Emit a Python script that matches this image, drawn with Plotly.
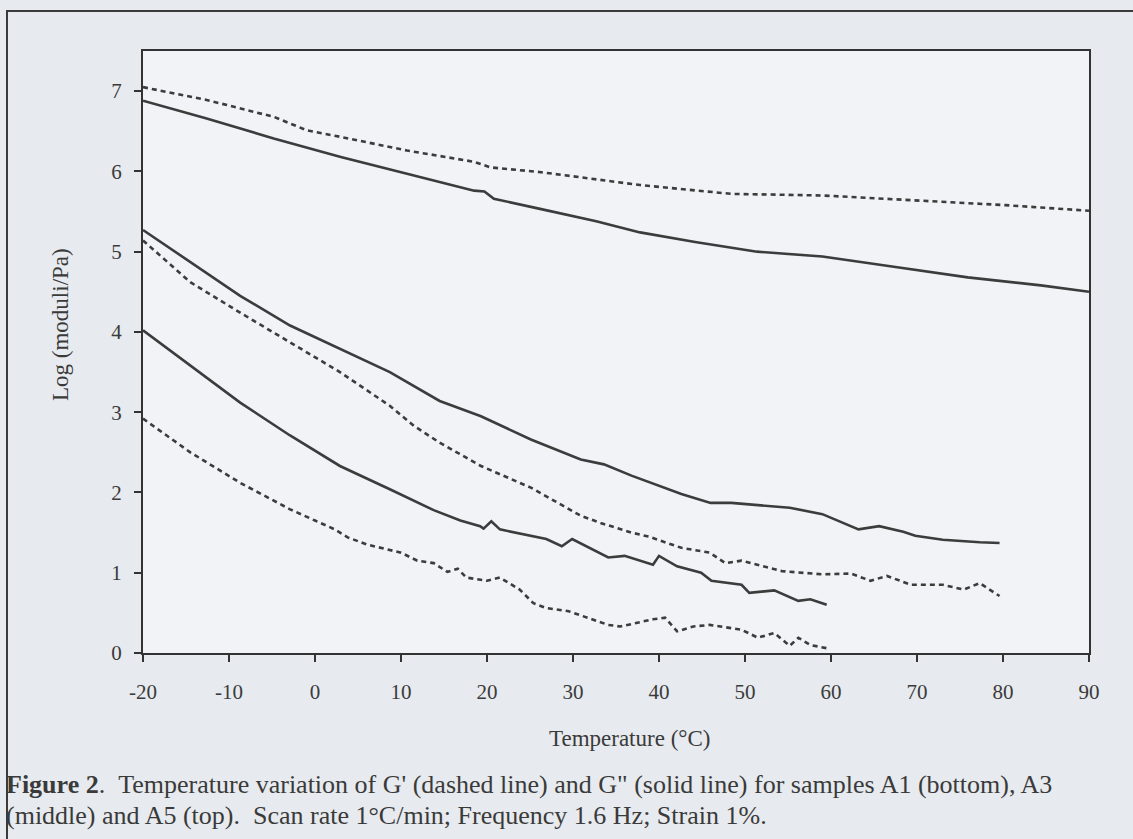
import plotly.graph_objects as go

# ---- data ----
a5_gp_t = [-20, -12.6, -4.8, -0.9, 3, 10.7, 18.5, 20.4, 26.3, 37.8, 48.4, 59, 69.6, 80.2, 90]
a5_gp_v = [7.05, 6.89, 6.68, 6.51, 6.43, 6.26, 6.12, 6.05, 5.99, 5.83, 5.72, 5.70, 5.64, 5.58, 5.51]

a5_gpp_t = [-20, -12.6, -4.8, 3, 10.7, 18.5, 19.7, 20.8, 26.3, 32.7, 37.8, 44.2, 51.4, 59, 67.5, 75.9, 84.4, 90]
a5_gpp_v = [6.88, 6.66, 6.41, 6.18, 5.97, 5.76, 5.75, 5.66, 5.53, 5.38, 5.24, 5.12, 5.00, 4.94, 4.81, 4.68, 4.58, 4.50]

a3_gpp_t = [-20, -14.5, -8.7, -2.9, 2.9, 8.7, 14.5, 19.3, 25.1, 30.9, 33.6, 36.8, 42.6, 46, 48.4,
            55.2, 59, 63.2, 65.6, 68.4, 69.8, 73, 77.3, 79.6]
a3_gpp_v = [5.27, 4.87, 4.45, 4.08, 3.79, 3.50, 3.14, 2.95, 2.66, 2.41, 2.35, 2.21, 1.98, 1.87, 1.87,
            1.81, 1.73, 1.54, 1.58, 1.51, 1.46, 1.41, 1.38, 1.37]

a3_gp_t = [-20, -14.5, -8.7, -2.9, 2.9, 8.7, 11.5, 14.5, 19.3, 25.1, 30.9, 33.2, 36.8, 38.8, 42.6,
           45.9, 47.7, 49.6, 54.3, 59, 62.3, 64.6, 66.5, 69.3, 73, 75.4, 77.3, 79.6]
a3_gp_v = [5.14, 4.62, 4.24, 3.87, 3.50, 3.08, 2.83, 2.62, 2.33, 2.06, 1.71, 1.62, 1.50, 1.45, 1.31,
           1.25, 1.12, 1.15, 1.02, 0.98, 0.99, 0.90, 0.96, 0.85, 0.85, 0.79, 0.87, 0.71]

a1_gpp_t = [-20, -14.5, -8.7, -2.9, 2.9, 8.7, 13.8, 16.9, 19.2, 19.6, 20.5, 21.5, 24.2, 26.9, 28.7,
            29.9, 34.1, 36, 39.3, 40, 42.1, 44.9, 46.1, 49.6, 50.5, 53.4, 56.2, 57.6, 59.5]
a1_gpp_v = [4.02, 3.58, 3.12, 2.71, 2.33, 2.04, 1.78, 1.65, 1.58, 1.55, 1.64, 1.54, 1.48, 1.42, 1.33,
            1.42, 1.19, 1.21, 1.10, 1.21, 1.08, 1.00, 0.90, 0.85, 0.75, 0.78, 0.65, 0.67, 0.60]

a1_gp_t = [-20, -14.5, -8.7, -2.9, 0, 2.3, 3.8, 6.1, 10, 11.9, 13.8, 15.4, 16.6, 17.6, 20, 21.5,
           23.8, 25.4, 26.9, 29.5, 34.1, 35.5, 39.3, 40.7, 42.1, 44, 45.9, 49.6, 51.5, 53.4, 55.2,
           56.2, 57.6, 59.5]
a1_gp_v = [2.92, 2.50, 2.12, 1.79, 1.65, 1.54, 1.44, 1.35, 1.25, 1.15, 1.12, 1.01, 1.05, 0.94, 0.90, 0.94,
           0.79, 0.62, 0.56, 0.52, 0.35, 0.33, 0.42, 0.44, 0.27, 0.33, 0.35, 0.29, 0.19, 0.25, 0.09,
           0.19, 0.10, 0.06]

x_ticks = [-20, -10, 0, 10, 20, 30, 40, 50, 60, 70, 80, 90]
y_ticks = [0, 1, 2, 3, 4, 5, 6, 7]

x_title = "Temperature (°C)"
y_title = "Log (moduli/Pa)"
caption1 = "<b>Figure 2</b>.\u00a0\u00a0Temperature variation of G' (dashed line) and G\" (solid line) for samples A1 (bottom), A3"
caption2 = "(middle) and A5 (top).\u00a0\u00a0Scan rate 1\u00b0C/min; Frequency 1.6 Hz; Strain 1%."

# ---- style ----
INK = "#3a3a3a"
LINE = "#3c3c3c"
FONT = "Liberation Serif"
W, H = 1133, 839
L, R, T, B = 143, 44, 51, 186
PW, PH = W - L - R, H - T - B


def px(x):
    return (x - L) / PW


def py(y):
    return (H - B - y) / PH


fig = go.Figure()
series = [
    (a5_gp_t, a5_gp_v, True), (a5_gpp_t, a5_gpp_v, False),
    (a3_gp_t, a3_gp_v, True), (a3_gpp_t, a3_gpp_v, False),
    (a1_gp_t, a1_gp_v, True), (a1_gpp_t, a1_gpp_v, False),
]
for t, v, dashed in series:
    fig.add_trace(go.Scatter(
        x=t, y=v, mode="lines", showlegend=False, hoverinfo="skip",
        line=dict(color=LINE, width=2.6, dash="5px,4px" if dashed else "solid"),
    ))

axis_common = dict(
    showline=True, mirror=True, linecolor="#333333", linewidth=2,
    ticks="outside", ticklen=7, tickwidth=2, tickcolor="#333333",
    showgrid=False, zeroline=False,
    tickfont=dict(family=FONT, size=21, color=INK),
)
fig.update_xaxes(range=[-20, 90], tickvals=x_ticks, ticktext=[str(v) for v in x_ticks],
                 ticklabelstandoff=12, **axis_common)
fig.update_yaxes(range=[0, 7.5], tickvals=y_ticks, ticktext=[str(v) for v in y_ticks],
                 ticklabelstandoff=8, **axis_common)

fig.add_annotation(text=x_title, xref="paper", yref="paper", x=px(629), y=py(738),
                   showarrow=False, xanchor="center", yanchor="middle",
                   font=dict(family=FONT, size=23, color=INK))
fig.add_annotation(text=y_title, xref="paper", yref="paper", x=px(60), y=py(325),
                   showarrow=False, xanchor="center", yanchor="middle", textangle=-90,
                   font=dict(family=FONT, size=23, color=INK))
fig.add_annotation(text=caption1, xref="paper", yref="paper", x=px(4), y=py(784),
                   showarrow=False, xanchor="left", yanchor="middle",
                   font=dict(family=FONT, size=26, color=INK))
fig.add_annotation(text=caption2, xref="paper", yref="paper", x=px(4), y=py(815),
                   showarrow=False, xanchor="left", yanchor="middle",
                   font=dict(family=FONT, size=26, color=INK))

# outer figure frame of the scanned page
fig.add_shape(type="rect", xref="paper", yref="paper",
              x0=px(7), x1=px(1145), y0=py(850), y1=py(11),
              line=dict(color="#3a3a3a", width=2), fillcolor="rgba(0,0,0,0)", layer="below")

fig.update_layout(
    width=W, height=H,
    margin=dict(l=L, r=R, t=T, b=B, pad=0),
    paper_bgcolor="#e7eaee",
    plot_bgcolor="#f1f3f6",
    font=dict(family=FONT, color=INK),
)

fig.write_html("out.html")
